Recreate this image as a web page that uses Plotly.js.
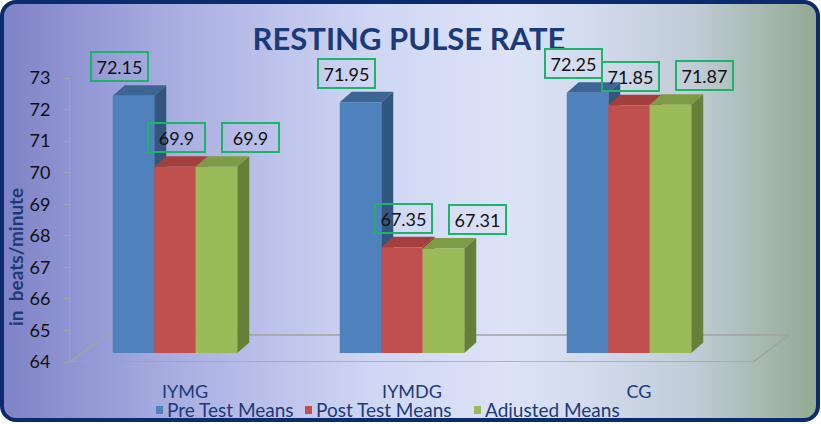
<!DOCTYPE html>
<html>
<head>
<meta charset="utf-8">
<script src="https://cdn.plot.ly/plotly-3.0.1.min.js"></script>
<style>
  html, body { margin:0; padding:0; background:#ffffff; }
  #bg { position:absolute; left:0; top:0; width:820px; height:422px; box-sizing:border-box;
        border:4px solid #0c2a6e; border-radius:16px;
        background: linear-gradient(90deg, #7f83c7 0%, #a7ace0 20%, #cfd6f3 45%, #dce3f7 62%, #d3dbee 72%, #c0ccd6 85%, #93aa92 100%); }
  #chart { position:absolute; left:0; top:0; width:821px; height:424px; }
</style>
</head>
<body>
<div id="bg"></div>
<div id="chart"></div>
<script>
// ---- data ----
const categories = ["IYMG", "IYMDG", "CG"];
const seriesNames = ["Pre Test Means", "Post Test Means", "Adjusted Means"];
const preTest = [72.15, 71.95, 72.25];
const postTest = [69.9, 67.35, 71.85];
const adjusted = [69.9, 67.31, 71.87];
const yTicks = [64, 65, 66, 67, 68, 69, 70, 71, 72, 73];

// ---- styles / geometry ----
const series = [preTest, postTest, adjusted];
const frontColors = ["#4f81bd", "#c0504d", "#9bbb59"];
const topColors   = ["#3d6594", "#a3403d", "#7f9b47"];
const sideColors  = ["#33567f", "#8d3634", "#66803a"];
const labelShiftX = [-14, 1, 34];
const legendPx = [156, 305, 474];
const font = "Lato, 'Open Sans', sans-serif";
const navy = "#1b3a78";

const W = 821, H = 424, L = 70, R = 31, T = 78, B = 62;
const plotW = W - L - R, plotH = H - T - B;
const pxPerCat = 227, firstCatPx = 175;
const x0 = -(firstCatPx - L) / pxPerCat;
const xRange = [x0, x0 + plotW / pxPerCat];
const yRange = [yTicks[0], yTicks[yTicks.length - 1]];
const pxPerY = plotH / (yRange[1] - yRange[0]);
const liftPx = 9;
const y2Range = [yRange[0] - liftPx / pxPerY, yRange[1] - liftPx / pxPerY];
const barW = 41.5 / pxPerCat;
const dxu = 12 / pxPerCat, dyu = 10.5 / pxPerY;
const base = yRange[0];
const px2paperX = px => (px - L) / plotW;
const px2paperY = py => (H - B - py) / plotH;

const traces = [];
const shapes = [];
const annotations = [];

series.forEach((vals, k) => {
  const xs = categories.map((c, i) => i + (k - 1) * barW);
  traces.push({
    type: "bar", name: seriesNames[k], x: xs, y: vals.map(v => v - base), base: base,
    width: barW, xaxis: "x", yaxis: "y2",
    marker: { color: frontColors[k], line: { width: 0 } },
    hoverinfo: "skip", showlegend: false
  });
  vals.forEach((v, i) => {
    const xl = xs[i] - barW / 2, xr = xs[i] + barW / 2;
    shapes.push({
      type: "path", xref: "x", yref: "y2", layer: "below",
      path: `M${xl},${v} L${xr},${v} L${xr + dxu},${v + dyu} L${xl + dxu},${v + dyu} Z`,
      fillcolor: topColors[k], line: { width: 0 }
    });
    shapes.push({
      type: "path", xref: "x", yref: "y2", layer: "below",
      path: `M${xr},${base} L${xr},${v} L${xr + dxu},${v + dyu} L${xr + dxu},${base + dyu} Z`,
      fillcolor: sideColors[k], line: { width: 0 }
    });
    annotations.push({
      xref: "x", yref: "y2", x: xs[i], y: v, yshift: 29, xshift: labelShiftX[k],
      text: String(v), showarrow: false, font: { family: font, size: 18, color: "#111111" },
      bordercolor: "#1db36b", borderwidth: 2, borderpad: 1, width: 53, height: 25,
      xanchor: "center", yanchor: "middle"
    });
  });
  // legend entry
  shapes.push({
    type: "rect", xref: "paper", yref: "paper",
    x0: px2paperX(legendPx[k]), x1: px2paperX(legendPx[k] + 7),
    y0: px2paperY(414), y1: px2paperY(406),
    fillcolor: frontColors[k], line: { width: 0 }
  });
  annotations.push({
    xref: "paper", yref: "paper", x: px2paperX(legendPx[k] + 9), y: px2paperY(409),
    xanchor: "left", yanchor: "middle", showarrow: false, text: seriesNames[k],
    font: { family: font, size: 19, color: navy }
  });
});

// floor outline (pixel offsets from bottom-left of plot)
shapes.unshift({
  type: "path", xref: "x", yref: "y", layer: "below",
  xsizemode: "pixel", ysizemode: "pixel", xanchor: xRange[0], yanchor: yRange[0],
  path: "M0,0 L683,0 L719,27 L37,27 Z",
  line: { color: "#a3a3a3", width: 1.5 }, fillcolor: "rgba(0,0,0,0)"
});

annotations.push({
  xref: "paper", yref: "paper", x: px2paperX(15), y: px2paperY(257),
  xanchor: "center", yanchor: "middle",
  text: "<b>in\u00a0 beats/minute</b>", textangle: -90, showarrow: false,
  font: { family: font, size: 19, color: navy }
});

const layout = {
  width: W, height: H,
  margin: { l: L, r: R, t: T, b: B, autoexpand: false },
  paper_bgcolor: "rgba(0,0,0,0)", plot_bgcolor: "rgba(0,0,0,0)",
  title: {
    text: "<b>RESTING PULSE RATE</b>", x: 409 / W, xanchor: "center",
    y: 1 - 39 / H, yanchor: "middle", yref: "container",
    font: { family: font, size: 31, color: navy }
  },
  barmode: "overlay",
  showlegend: false,
  xaxis: {
    range: xRange, tickvals: categories.map((c, i) => i), ticktext: categories,
    showgrid: false, zeroline: false, showline: false, ticks: "", automargin: false,
    ticklabelshift: 10, ticklabelstandoff: 17, tickfont: { family: font, size: 18, color: navy }
  },
  yaxis: {
    range: yRange, tickvals: yTicks, showgrid: false, zeroline: false, automargin: false,
    showline: true, linecolor: "#a3a3a3", linewidth: 1,
    ticks: "outside", ticklen: 6, tickcolor: "#a3a3a3",
    ticklabelstandoff: 9, tickfont: { family: font, size: 18, color: "#111111" }
  },
  yaxis2: { range: y2Range, overlaying: "y", visible: false },
  shapes: shapes,
  annotations: annotations
};

Plotly.newPlot("chart", traces, layout, { displayModeBar: false, staticPlot: true });
</script>
</body>
</html>
